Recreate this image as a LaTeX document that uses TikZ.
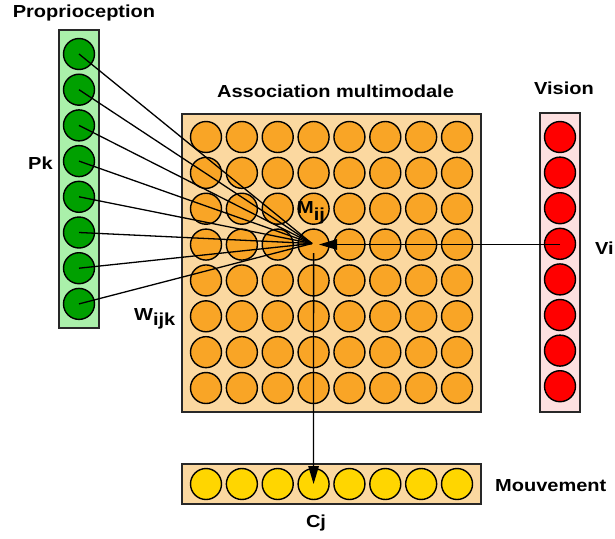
\documentclass[tikz,border=0pt]{standalone}
\usepackage{fontspec}
\setmainfont{Liberation Sans}[FakeStretch=1.15]
\usetikzlibrary{arrows.meta}
\definecolor{gdark}{RGB}{0,160,0}
\definecolor{glight}{RGB}{170,240,170}
\definecolor{odark}{RGB}{249,165,38}
\definecolor{olight}{RGB}{251,216,160}
\definecolor{rdark}{RGB}{255,0,0}
\definecolor{rlight}{RGB}{253,224,224}
\definecolor{ydark}{RGB}{255,214,0}
\definecolor{edgec}{RGB}{40,40,40}
\begin{document}
\begin{tikzpicture}[x=1pt,y=-1pt,
  panel/.style={rectangle,draw=edgec,line width=1.6pt,inner sep=0pt,outer sep=0pt},
  cell/.style={circle,draw=black,line width=1.4pt,minimum size=31pt,inner sep=0pt},
  lbl/.style={font=\fontsize{17.4}{20}\selectfont\bfseries,inner sep=0pt},
  link/.style={line width=1.3pt,black},
  tipped/.style={-{Triangle[length=18pt,width=10.5pt]}}]
\useasboundingbox (0,0) rectangle (615,538);
% panels
\node[panel,fill=glight,minimum width=40pt,minimum height=298pt] (pbox) at (79,179) {};
\node[panel,fill=olight,minimum width=299pt,minimum height=298pt] (mbox) at (331.5,263) {};
\node[panel,fill=rlight,minimum width=40pt,minimum height=299pt] (vbox) at (560,262.5) {};
\node[panel,fill=olight,minimum width=299pt,minimum height=40pt] (cbox) at (331.5,484) {};
% cells
\foreach \k in {1,...,8}{
  \node[cell,fill=gdark] (p\k) at (79,{54+35.7*(\k-1)}) {};
  \node[cell,fill=rdark] (v\k) at (560,{137+35.6*(\k-1)}) {};
  \node[cell,fill=ydark] (c\k) at ({206+35.86*(\k-1)},484) {};
  \foreach \j in {1,...,8}{
    \node[cell,fill=odark] (m-\j-\k) at ({206+35.86*(\k-1)},{137+35.86*(\j-1)}) {};
  }
}
% connectors
\coordinate (hub) at (312,243.5);
\coordinate (hubin) at (319,244.5);
\coordinate (hubout) at (313.6,253);
\foreach \k in {1,...,8}{
  \draw[link] (p\k.center) -- (hub);
}
\draw[link,tipped] (v4.center |- hubin) -- (hubin);
\draw[link,tipped] (hubout) -- (c4.center);
% labels
\node[lbl,anchor=base] (tprop) at (84,17.3) {Proprioception};
\node[lbl,anchor=base] (tassoc) at (335.5,97.3) {Association multimodale};
\node[lbl,anchor=base] (tvis) at (564,94) {Vision};
\node[lbl,anchor=base west] (tvi) at (595,254) {Vi};
\node[lbl,anchor=base west] (tpk) at (28,169) {Pk};
\node[lbl,anchor=base west] (tmouv) at (495,491) {Mouvement};
\node[lbl,anchor=base] (tcj) at (316,527) {Cj};
\node[lbl,anchor=base west] (tw) at (134,320) {W\raisebox{-5.5pt}{ijk}};
\node[lbl,anchor=base west] (tm) at (297,213) {M\raisebox{-7pt}{ij}};
\end{tikzpicture}
\end{document}
